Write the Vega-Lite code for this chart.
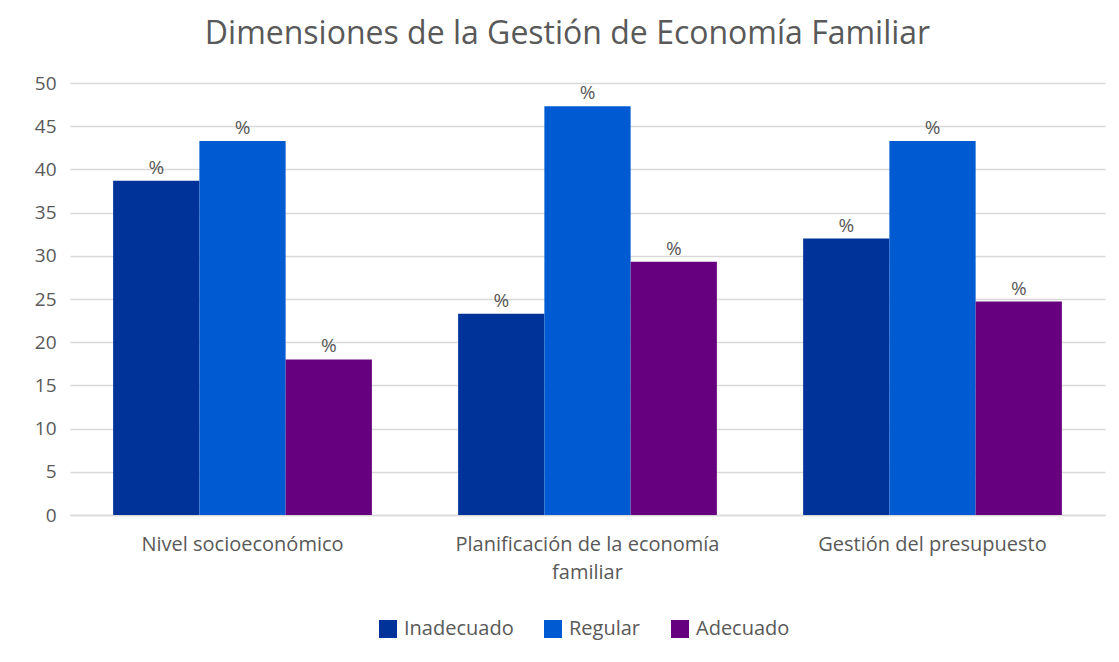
{
  "$schema": "https://vega.github.io/schema/vega-lite/v6.json",
  "width": 1035,
  "height": 432,
  "padding": {"left": 30, "top": 18, "right": 14, "bottom": 10},
  "autosize": {"type": "pad"},
  "background": "white",
  "config": {"view": {"stroke": null}, "font": "Open Sans"},
  "title": {"text": "Dimensiones de la Gestión de Economía Familiar", "fontSize": 32, "font": "Open Sans", "fontWeight": "normal", "color": "#595959", "offset": 23, "anchor": "middle", "frame": "bounds"},
  "data": {"values": [
    {"dim": "Nivel socioeconómico", "nivel": "Inadecuado", "valor": 38.7},
    {"dim": "Nivel socioeconómico", "nivel": "Regular", "valor": 43.3},
    {"dim": "Nivel socioeconómico", "nivel": "Adecuado", "valor": 18.0},
    {"dim": "Planificación de la economía familiar", "nivel": "Inadecuado", "valor": 23.3},
    {"dim": "Planificación de la economía familiar", "nivel": "Regular", "valor": 47.3},
    {"dim": "Planificación de la economía familiar", "nivel": "Adecuado", "valor": 29.3},
    {"dim": "Gestión del presupuesto", "nivel": "Inadecuado", "valor": 32.0},
    {"dim": "Gestión del presupuesto", "nivel": "Regular", "valor": 43.3},
    {"dim": "Gestión del presupuesto", "nivel": "Adecuado", "valor": 24.7}
  ]},
  "encoding": {
    "x": {"field": "dim", "type": "nominal", "sort": ["Nivel socioeconómico", "Planificación de la economía familiar", "Gestión del presupuesto"],
      "scale": {"paddingInner": 0.25, "paddingOuter": 0.125},
      "axis": {"title": null, "labelAngle": 0, "ticks": false, "domainColor": "#d9d9d9", "domainWidth": 1.5, "labelFontSize": 20, "labelColor": "#595959", "labelPadding": 19, "labelLineHeight": 28, "labelFont": "Open Sans", "labelLimit": 0,
        "labelExpr": "datum.label == 'Planificación de la economía familiar' ? ['Planificación de la economía', 'familiar'] : datum.label"}},
    "xOffset": {"field": "nivel", "type": "nominal", "sort": ["Inadecuado", "Regular", "Adecuado"]},
    "y": {"field": "valor", "type": "quantitative", "scale": {"domain": [0, 50]},
      "axis": {"title": null, "values": [0, 5, 10, 15, 20, 25, 30, 35, 40, 45, 50], "domain": false, "ticks": false, "gridColor": "#d9d9d9", "gridWidth": 1.5, "labelFontSize": 19, "labelColor": "#595959", "labelPadding": 14, "labelFont": "Open Sans", "minExtent": 40, "maxExtent": 40}}
  },
  "layer": [
    {"mark": {"type": "bar"},
     "encoding": {"color": {"field": "nivel", "type": "nominal", "sort": ["Inadecuado", "Regular", "Adecuado"],
       "scale": {"domain": ["Inadecuado", "Regular", "Adecuado"], "range": ["#00339A", "#005AD2", "#66007F"]},
       "legend": {"orient": "none", "legendX": 308, "legendY": 536, "title": null, "symbolType": "square", "symbolSize": 324, "symbolStrokeWidth": 0, "labelFontSize": 20, "labelColor": "#595959", "labelFont": "Open Sans", "columnPadding": 29, "labelOffset": 6, "direction": "horizontal"}}}},
    {"mark": {"type": "text", "dy": -13, "fontSize": 19, "color": "#595959", "font": "Open Sans"},
     "encoding": {"text": {"value": "%"}}}
  ]
}
